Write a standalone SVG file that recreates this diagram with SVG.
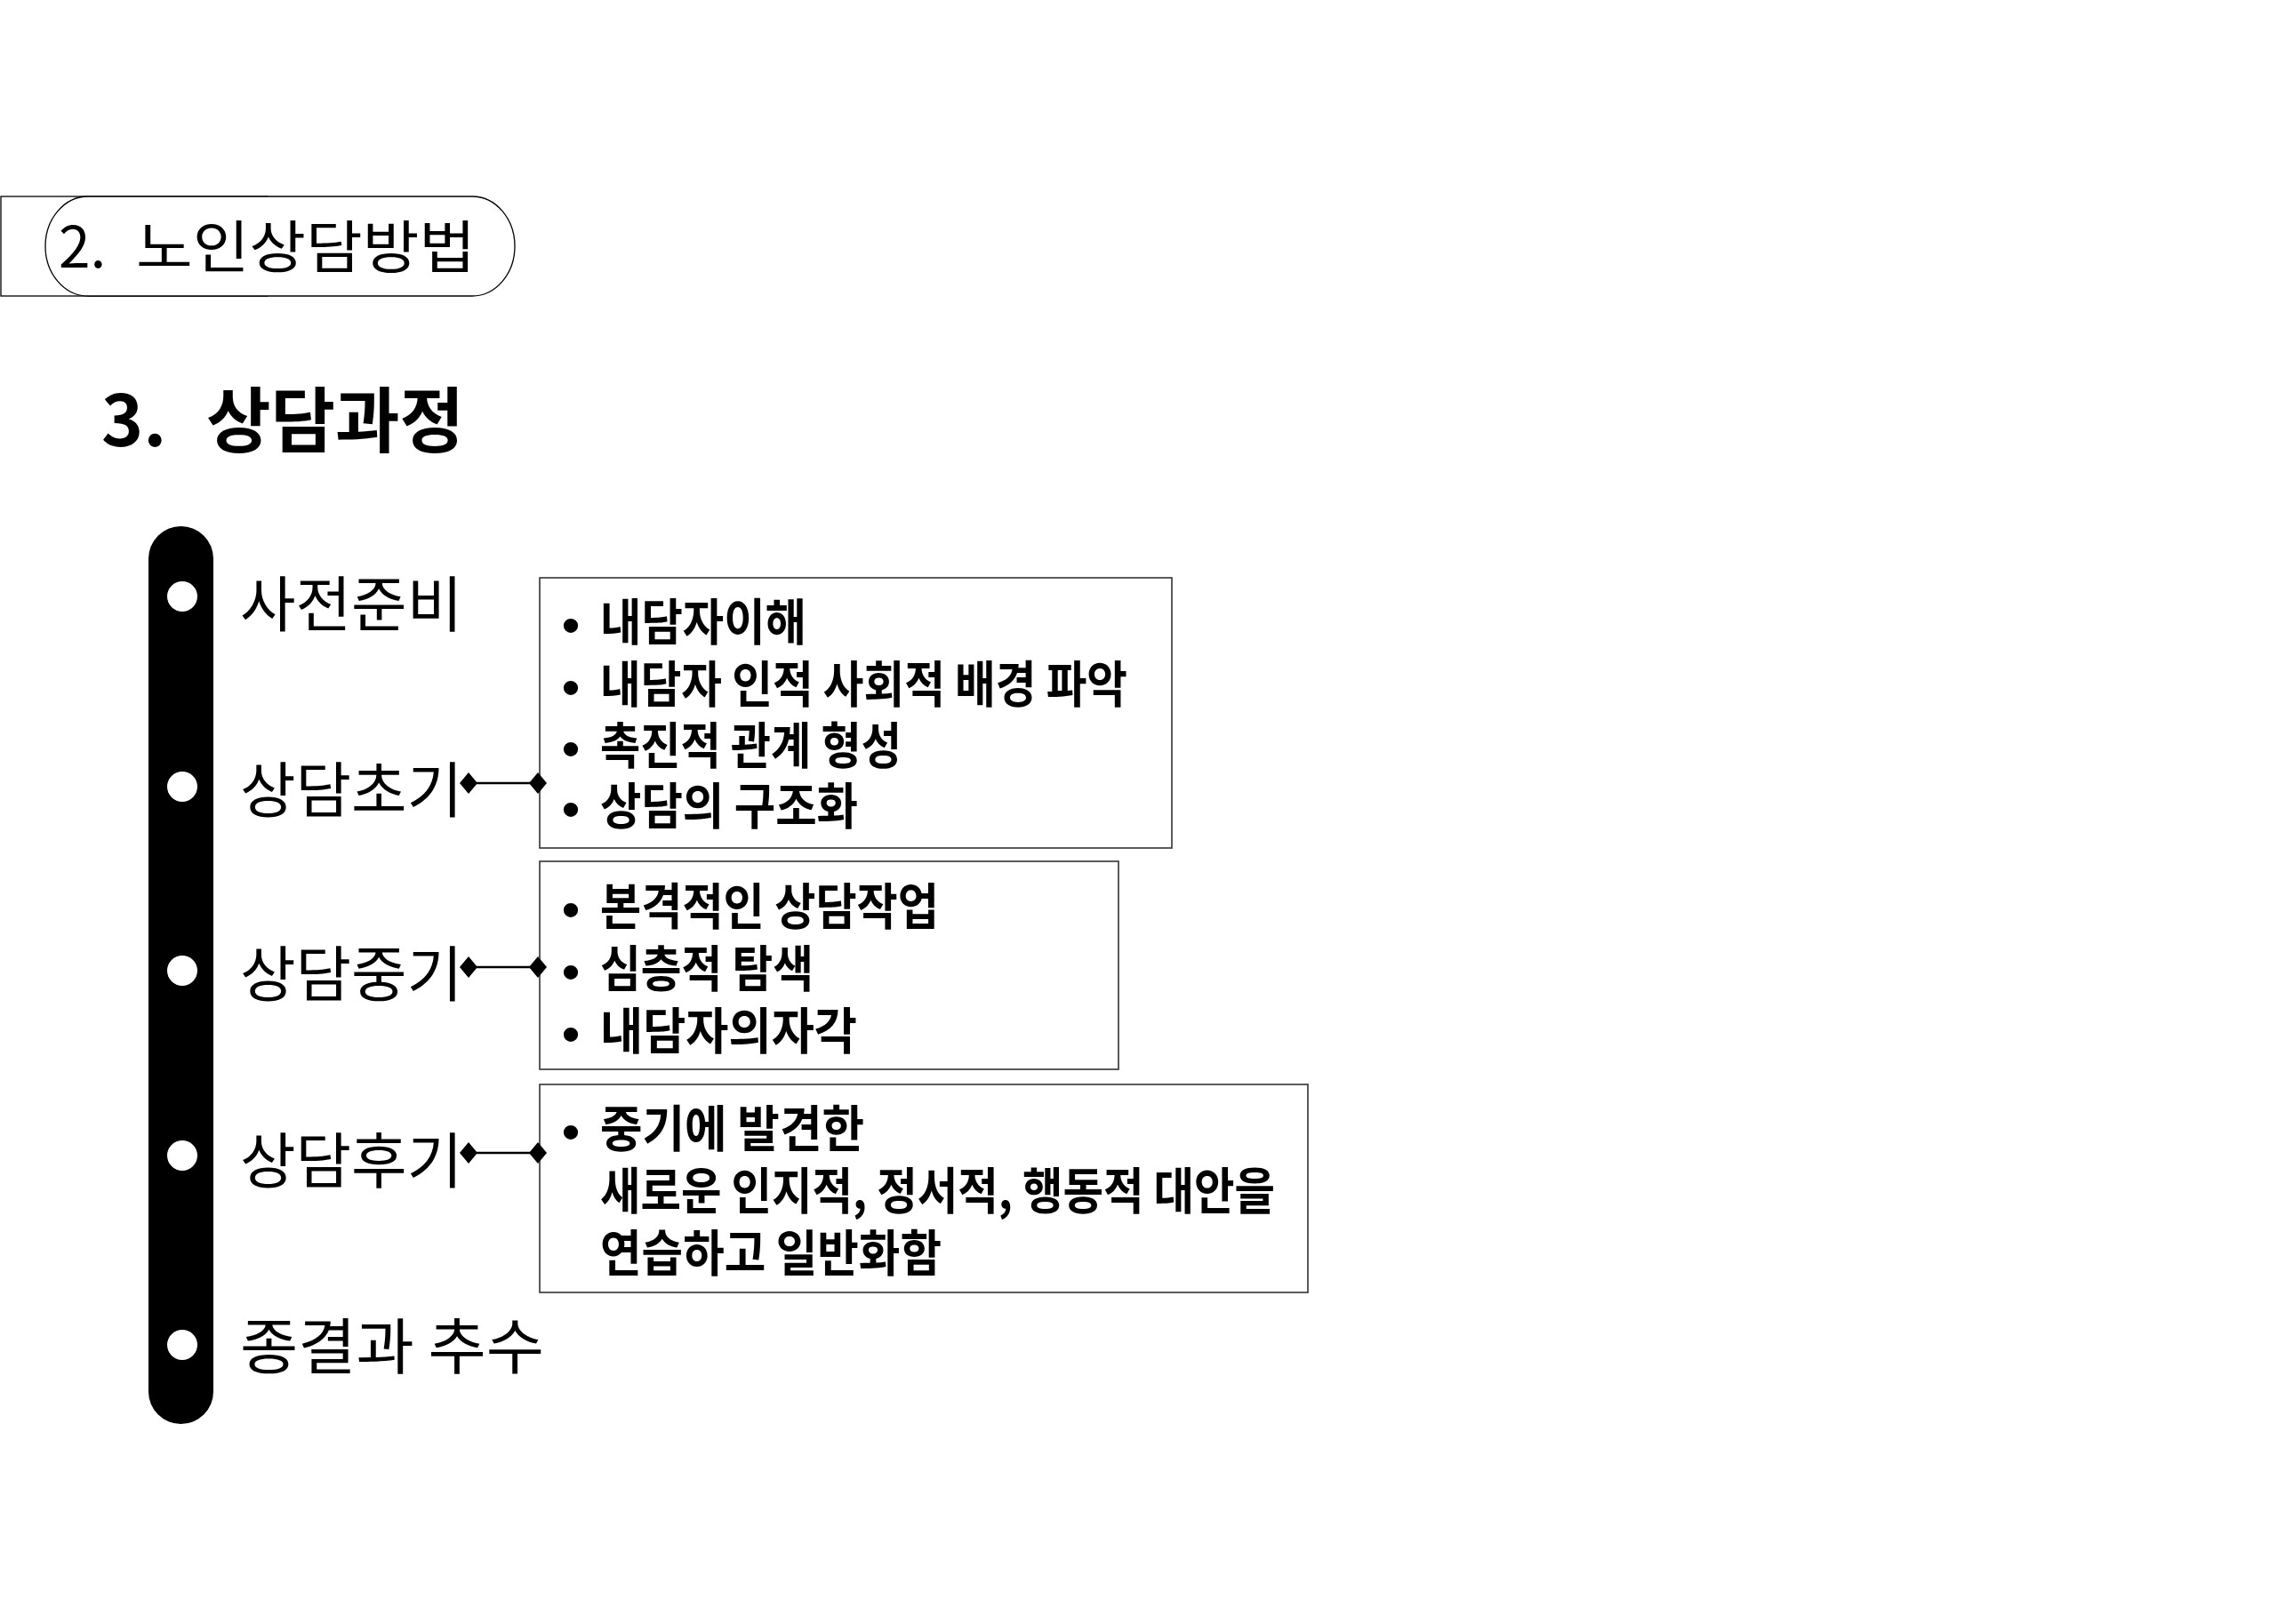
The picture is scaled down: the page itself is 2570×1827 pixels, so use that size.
<svg xmlns="http://www.w3.org/2000/svg" width="2570" height="1827" viewBox="0 0 2570 1827">
<defs>
<style>
.hdr{font-family:"Noto Sans CJK KR","Noto Sans",sans-serif;font-size:64px;fill:#000}
.ttl{font-family:"Noto Sans CJK KR","Noto Sans",sans-serif;font-size:80px;font-weight:700;fill:#000}
.lbl{font-family:"Noto Sans CJK KR","Noto Sans",sans-serif;font-size:68px;fill:#000}
.itm{font-family:"Noto Sans CJK KR","Noto Sans",sans-serif;font-size:56px;font-weight:700;fill:#000}
.bul{font-family:"Liberation Sans",sans-serif;font-size:60px;fill:#000;text-anchor:middle}
.box{fill:#fff;stroke:#333;stroke-width:1.6}
.dot{fill:#fff}
.con{stroke:#000;stroke-width:2.5;fill:none;marker-start:url(#dia);marker-end:url(#dia)}
</style>
<marker id="dia" viewBox="-11 -13 22 26" refX="0" refY="0" markerWidth="22" markerHeight="26" markerUnits="userSpaceOnUse" orient="auto">
<path d="M0,-12 L10,0 L0,12 L-10,0 Z" fill="#000"/>
</marker>
</defs>
<rect width="2570" height="1827" fill="#fff"/>

<g id="header">
<rect x="1" y="221" width="300" height="112" fill="#fff" stroke="#000" stroke-width="1.3"/>
<rect x="51" y="221" width="528" height="112" rx="48" ry="56" fill="#fff" stroke="#000" stroke-width="1.3"/>
<text class="hdr" x="66" y="301">2. <tspan x="153" textLength="382" lengthAdjust="spacingAndGlyphs">노인상담방법</tspan></text>
</g>

<g id="title">
<text class="ttl" x="114" y="502">3. <tspan x="232" textLength="290" lengthAdjust="spacingAndGlyphs">상담과정</tspan></text>
</g>

<g id="timeline">
<rect x="167" y="592" width="73" height="1010" rx="36.5" ry="36.5" fill="#000"/>
<ellipse class="dot" cx="205" cy="671" rx="17" ry="17"/>
<ellipse class="dot" cx="205" cy="885" rx="17" ry="17"/>
<ellipse class="dot" cx="205" cy="1092" rx="17" ry="17"/>
<ellipse class="dot" cx="205" cy="1300" rx="17" ry="17"/>
<ellipse class="dot" cx="205" cy="1513" rx="17" ry="17"/>
</g>

<g id="stage-prep"><text class="lbl" x="270" y="705">사전준비</text></g>
<g id="stage-early"><text class="lbl" x="270" y="914">상담초기</text></g>
<g id="stage-middle"><text class="lbl" x="270" y="1121">상담중기</text></g>
<g id="stage-late"><text class="lbl" x="270" y="1331">상담후기</text></g>
<g id="stage-end"><text class="lbl" x="270" y="1540" textLength="342" lengthAdjust="spacingAndGlyphs">종결과 추수</text></g>

<g id="box-early">
<rect class="box" x="607" y="650" width="711" height="304"/>
<text class="bul" x="642" y="724">•</text>
<text class="bul" x="642" y="794">•</text>
<text class="bul" x="642" y="863">•</text>
<text class="bul" x="642" y="931">•</text>
<text class="itm" x="675" y="720" textLength="232" lengthAdjust="spacingAndGlyphs">내담자이해</text>
<text class="itm" x="675" y="790" textLength="593" lengthAdjust="spacingAndGlyphs">내담자 인적 사회적 배경 파악</text>
<text class="itm" x="675" y="859" textLength="339" lengthAdjust="spacingAndGlyphs">촉진적 관계 형성</text>
<text class="itm" x="675" y="927" textLength="290" lengthAdjust="spacingAndGlyphs">상담의 구조화</text>
</g>

<g id="box-middle">
<rect class="box" x="607" y="969" width="651" height="234"/>
<text class="bul" x="642" y="1044">•</text>
<text class="bul" x="642" y="1114">•</text>
<text class="bul" x="642" y="1184">•</text>
<text class="itm" x="675" y="1040" textLength="381" lengthAdjust="spacingAndGlyphs">본격적인 상담작업</text>
<text class="itm" x="675" y="1110" textLength="240" lengthAdjust="spacingAndGlyphs">심층적 탐색</text>
<text class="itm" x="675" y="1180" textLength="289" lengthAdjust="spacingAndGlyphs">내담자의자각</text>
</g>

<g id="box-late">
<rect class="box" x="607" y="1220" width="864" height="234"/>
<text class="bul" x="642" y="1294">•</text>
<text class="itm" x="675" y="1290" textLength="297" lengthAdjust="spacingAndGlyphs">중기에 발견한</text>
<text class="itm" x="675" y="1360" textLength="759" lengthAdjust="spacingAndGlyphs">새로운 인지적, 정서적, 행동적 대안을</text>
<text class="itm" x="675" y="1430" textLength="384" lengthAdjust="spacingAndGlyphs">연습하고 일반화함</text>
</g>

<g id="connectors">
<line class="con" x1="527" y1="881" x2="605" y2="881"/>
<line class="con" x1="527" y1="1088" x2="605" y2="1088"/>
<line class="con" x1="527" y1="1297" x2="605" y2="1297"/>
</g>
</svg>
